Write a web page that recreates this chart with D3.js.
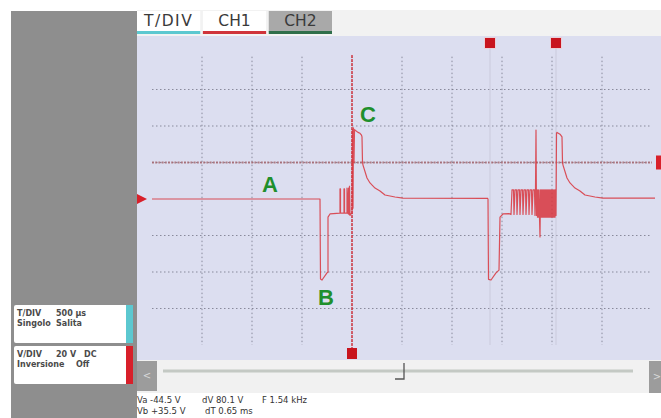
<!DOCTYPE html>
<html><head><meta charset="utf-8">
<script src="https://cdn.jsdelivr.net/npm/d3@7"></script>
<style>html,body{margin:0;padding:0;background:#fff;}svg{display:block;}</style>
</head><body>
<svg id="c" width="661" height="418"></svg>
<script>
// ---- data (time in ms, voltage in V; 500 µs/div, 20 V/div) ----
const tabs = ["T/DIV", "CH1", "CH2"];
const timeGrid = [0.5, 1.0, 1.5, 2.0, 2.5, 3.0, 3.5, 4.0, 4.5];
const voltGrid = [-60, -40, -20, 20, 40, 60];
const triggerLevel = 20;
const triggerTime = 2.0;
const cursorTimes = [3.38, 4.04];
const trace1 = [
  [0.00, 0], [1.68, 0], [1.685, -43.8], [1.70, -44.4], [1.75, -40.5], [1.76, -40],
  [1.76, -9.9], [1.78, -8.2], [1.88, -7.7], [1.88, 5.5], [1.885, 5.5], [1.885, -7.7],
  [1.92, -7.7], [1.92, 5.5], [1.925, 5.5], [1.925, -7.7], [1.95, -7.7], [1.95, 6],
  [1.96, -8], [1.965, 6], [1.97, -8.5], [1.975, 7], [1.98, -9], [1.99, -8],
  [2.00, -8], [2.005, 38], [2.01, -5], [2.015, 39], [2.02, 20], [2.025, 38],
  [2.035, 37.5], [2.06, 36.5], [2.08, 36], [2.095, 35], [2.10, 34], [2.105, 20],
  [2.11, 18.6], [2.15, 11.5], [2.18, 8.8], [2.23, 6.0], [2.28, 4.4], [2.33, 2.2],
  [2.43, 1.1], [2.51, 0.5], [3.36, 0.3]
];
const trace2 = [
  [3.36, 0.3], [3.365, -44], [3.39, -44.4], [3.44, -40.5], [3.47, -39], [3.48, -9.9],
  [3.51, -8.2], [3.57, -8], [3.59, -8.5], [3.60, 5], [3.615, 5], [3.62, -8.5],
  [3.63, 5], [3.645, 5], [3.65, -8.5], [3.66, 5], [3.675, 5], [3.68, -8.5],
  [3.69, 5], [3.705, 5], [3.71, -8.5], [3.72, 5], [3.735, 5], [3.74, -8.5],
  [3.75, 5], [3.765, 5], [3.77, -8.5], [3.78, 5], [3.795, 5], [3.80, -8.5],
  [3.81, 5], [3.825, 5], [3.83, -9], [3.835, 5], [3.84, 37.8], [3.845, -9],
  [3.85, 5], [3.855, -10], [3.86, 5], [3.865, -10], [3.87, 5], [3.875, -10],
  [3.88, -20.8], [3.885, 5], [3.89, -10], [3.895, 5], [3.90, -10], [3.905, 5],
  [3.91, -10], [3.915, 5], [3.92, -10], [3.925, 5], [3.93, -10], [3.935, 5],
  [3.94, -10], [3.945, 5], [3.95, -10], [3.955, 5], [3.96, -10], [3.965, 5],
  [3.97, -10], [3.975, 5], [3.98, -10], [3.985, 5], [3.99, -10], [3.995, 5],
  [4.00, -10], [4.005, 5], [4.01, -10], [4.015, 5], [4.02, -10], [4.025, 5],
  [4.03, -10], [4.035, 5], [4.04, -9], [4.045, 36], [4.05, 36.5], [4.08, 35.5],
  [4.10, 34], [4.105, 20], [4.11, 18.6], [4.15, 11.5], [4.18, 8.8], [4.23, 6.0],
  [4.28, 4.4], [4.33, 2.2], [4.43, 1.1], [4.51, 0.5], [5.03, 0.5]
];
const labels = [
  {text: "A", t: 1.18, v: 8.2},
  {text: "B", t: 1.74, v: -53.7},
  {text: "C", t: 2.16, v: 46.6}
];
const infoLeft = [
  [["T/DIV", "500 µs"], ["Singolo", "Salita"]],
  [["V/DIV", "20 V", "DC"], ["Inversione", "Off"]]
];
const readout = [["Va -44.5 V", "dV 80.1 V", "F 1.54 kHz"], ["Vb +35.5 V", "dT 0.65 ms"]];

// ---- drawing ----
const svg = d3.select("#c");
const x = d3.scaleLinear().domain([0, 5]).range([152, 652]);
const y = d3.scaleLinear().domain([-80, 80]).range([345, 53]);
const font = "'DejaVu Sans', Verdana, sans-serif";

// left grey panel
svg.append("rect").attr("x", 11).attr("y", 11).attr("width", 126).attr("height", 407).attr("fill", "#8e8e8e");
// header strip
svg.append("rect").attr("x", 137).attr("y", 10).attr("width", 524).attr("height", 26).attr("fill", "#f2f2f2");
// plot background
svg.append("rect").attr("x", 137).attr("y", 36).attr("width", 524).attr("height", 324).attr("fill", "#dcdef0");
// slider strip
svg.append("rect").attr("x", 137).attr("y", 360).attr("width", 524).attr("height", 33).attr("fill", "#f1f1f1");

// tabs
const tabX = d3.scaleBand().domain(tabs).range([137, 332]).paddingInner(0.04);
const tabFill = {"T/DIV": "#ffffff", "CH1": "#ffffff", "CH2": "#a9a9a9"};
const tabLine = {"T/DIV": "#5cc8d0", "CH1": "#d0343a", "CH2": "#2f6e4a"};
tabs.forEach(t => {
  svg.append("rect").attr("x", tabX(t)).attr("y", 11).attr("width", tabX.bandwidth()).attr("height", 21).attr("fill", tabFill[t]);
  svg.append("rect").attr("x", tabX(t)).attr("y", 31).attr("width", tabX.bandwidth()).attr("height", 3).attr("fill", tabLine[t]);
  svg.append("text").attr("x", tabX(t) + tabX.bandwidth() / 2)
    .attr("y", 26).attr("text-anchor", "middle")
    .attr("letter-spacing", t === "T/DIV" ? 1.5 : 0)
    .attr("font-family", font).attr("font-size", 15.5).attr("fill", "#3a3a3a").text(t);
});

// grid
const g = svg.append("g");
g.selectAll("line.v").data(timeGrid).join("line")
  .attr("x1", d => x(d)).attr("x2", d => x(d)).attr("y1", y(78)).attr("y2", y(-80))
  .attr("stroke", "#6f6f80").attr("stroke-width", 1).attr("stroke-dasharray", "1.5,2.5").attr("opacity", 0.75);
g.selectAll("line.h").data(voltGrid).join("line")
  .attr("x1", x(0)).attr("x2", x(5)).attr("y1", d => y(d)).attr("y2", d => y(d))
  .attr("stroke", "#6f6f80").attr("stroke-width", 1).attr("stroke-dasharray", "1.5,2.5").attr("opacity", 0.75);

// trigger level line
g.append("line").attr("x1", x(0)).attr("x2", x(5)).attr("y1", y(triggerLevel)).attr("y2", y(triggerLevel))
  .attr("stroke", "#a86a72").attr("stroke-width", 2).attr("stroke-dasharray", "2,1.2").attr("opacity", 0.85);

// cursor lines
g.selectAll("line.cur").data(cursorTimes).join("line")
  .attr("x1", d => x(d)).attr("x2", d => x(d)).attr("y1", 48).attr("y2", y(-80))
  .attr("stroke", "#c6c6d8").attr("stroke-width", 1).attr("opacity", 0.8);

// trigger time line
g.append("line").attr("x1", x(triggerTime)).attr("x2", x(triggerTime)).attr("y1", 55).attr("y2", 349)
  .attr("stroke", "#d2303a").attr("stroke-width", 1.4).attr("stroke-dasharray", "3,1");

// traces
const line = d3.line().x(d => x(d[0])).y(d => y(d[1]));
[trace1, trace2].forEach(tr => {
  svg.append("path").attr("d", line(tr)).attr("fill", "none")
    .attr("stroke", "#d8353d").attr("stroke-width", 1.2).attr("stroke-linejoin", "round").attr("opacity", 0.85);
});

// markers
svg.append("path").attr("d", `M137,${y(0) - 5} L147,${y(0)} L137,${y(0) + 5} Z`).attr("fill", "#d8202a");
svg.append("rect").attr("x", 656).attr("y", y(triggerLevel) - 7).attr("width", 5).attr("height", 14).attr("fill", "#d8202a");
cursorTimes.forEach(t => {
  svg.append("rect").attr("x", x(t) - 6).attr("y", 37).attr("width", 12).attr("height", 12).attr("fill", "#f4c6c8").attr("opacity", 0.6);
  svg.append("rect").attr("x", x(t) - 5).attr("y", 38).attr("width", 10).attr("height", 10).attr("fill", "#c8141e");
});
svg.append("rect").attr("x", x(triggerTime) - 5).attr("y", 348).attr("width", 10).attr("height", 11).attr("fill", "#c8141e");

// labels
svg.selectAll("text.lab").data(labels).join("text")
  .attr("x", d => x(d.t)).attr("y", d => y(d.v)).attr("dy", "0.36em").attr("text-anchor", "middle")
  .attr("font-family", "'Liberation Sans', Arial, sans-serif").attr("font-weight", "bold")
  .attr("font-size", 22).attr("fill", "#1f8f2c").text(d => d.text);

// left info boxes
const boxColors = ["#5cc8d0", "#d8202a"];
const pieceX = [[[17, 56], [17, 56]], [[17, 56, 84], [17, 76]]];
infoLeft.forEach((lines, i) => {
  const top = 305 + i * 41;
  svg.append("rect").attr("x", 14).attr("y", top).attr("width", 119).attr("height", 38).attr("rx", 2).attr("fill", "#ffffff");
  svg.append("rect").attr("x", 126).attr("y", top).attr("width", 7).attr("height", 38).attr("fill", boxColors[i]);
  lines.forEach((pieces, j) => {
    pieces.forEach((p, k) => {
      svg.append("text").attr("x", pieceX[i][j][k]).attr("y", top + 11 + j * 10).attr("font-family", font)
        .attr("font-size", 8).attr("font-weight", "bold").attr("fill", "#4a4a4a").text(p);
    });
  });
});

// slider
svg.append("rect").attr("x", 137).attr("y", 361).attr("width", 20).attr("height", 30).attr("fill", "#9c9c9c");
svg.append("text").attr("x", 147).attr("y", 379).attr("text-anchor", "middle").attr("font-family", font)
  .attr("font-size", 10).attr("fill", "#d8d8d8").text("<");
svg.append("rect").attr("x", 649).attr("y", 361).attr("width", 12).attr("height", 32).attr("fill", "#9c9c9c");
svg.append("text").attr("x", 657).attr("y", 380).attr("text-anchor", "middle").attr("font-family", font)
  .attr("font-size", 10).attr("fill", "#d8d8d8").text(">");
svg.append("line").attr("x1", 163).attr("x2", 633).attr("y1", 371).attr("y2", 371).attr("stroke", "#c4c9c4").attr("stroke-width", 3);
svg.append("path").attr("d", "M404,363 L404,379 L395,379").attr("fill", "none").attr("stroke", "#555").attr("stroke-width", 1.3);

// readout text
const colX = [[137, 202, 262], [137, 205]];
readout.forEach((row, i) => {
  row.forEach((s, j) => {
    svg.append("text").attr("x", colX[i][j]).attr("y", 403 + i * 11).attr("font-family", font)
      .attr("font-size", 8.5).attr("fill", "#333").text(s);
  });
});
</script>
</body></html>
